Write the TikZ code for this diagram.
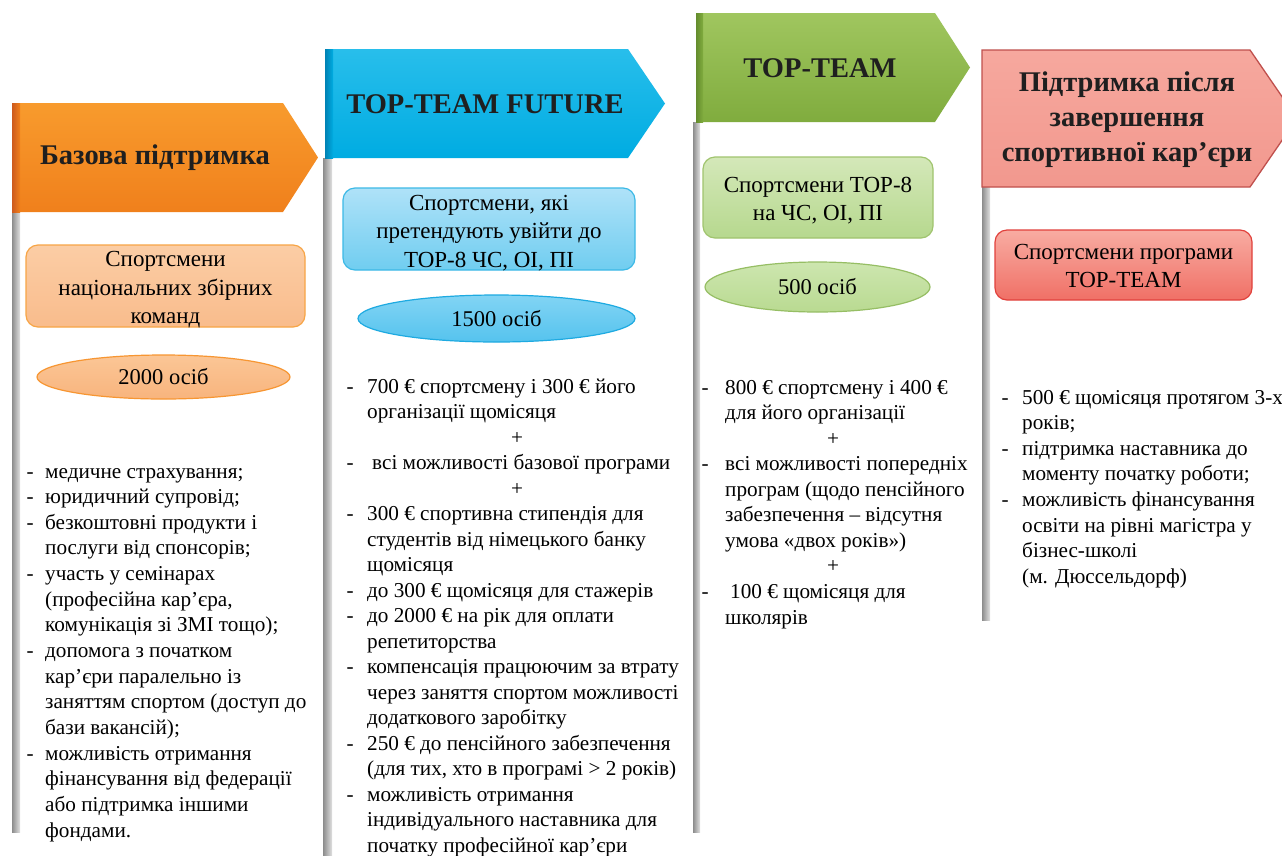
\documentclass[tikz,border=0pt]{standalone}
\usepackage{fontspec}
\setmainfont{LiberationSerif}[Extension=.ttf, UprightFont=*-Regular, BoldFont=*-Bold, ItalicFont=*-Italic, BoldItalicFont=*-BoldItalic]
\usetikzlibrary{shapes.geometric}
\definecolor{orA}{RGB}{248,155,45}
\definecolor{orB}{RGB}{240,128,28}
\definecolor{orD}{RGB}{205,90,30}
\definecolor{blA}{RGB}{40,190,235}
\definecolor{blB}{RGB}{0,172,226}
\definecolor{blD}{RGB}{0,130,180}
\definecolor{grA}{RGB}{160,198,95}
\definecolor{grB}{RGB}{128,172,62}
\definecolor{grD}{RGB}{100,140,45}
\definecolor{rdA}{RGB}{246,168,158}
\definecolor{rdB}{RGB}{242,152,142}
\definecolor{rdE}{RGB}{192,80,77}
\newcommand\dsh{\llap{-\hspace{\dgap}}}
\newcommand\pls[1]{\makebox[#1pt][c]{+}}
\def\dgap{12pt}
\begin{document}
\begin{tikzpicture}[x=1pt,y=-1pt,
  ttl/.style={font=\bfseries\fontsize{28.5}{35}\selectfont, text=black!88, align=center, inner sep=0pt},
  boxs/.style={inner sep=0pt, rounded corners=12pt, line width=1.2pt},
  boxt/.style={font=\fontsize{23}{28.5}\selectfont, align=center, inner sep=0pt},
  ell/.style={ellipse, font=\fontsize{22.5}{26}\selectfont, inner sep=0pt, line width=1.2pt},
  lt/.style={font=\fontsize{21.2}{25}\selectfont, anchor=base west, inner sep=0pt},
  bar/.style={left color=black!45, right color=black!12}]
\useasboundingbox (0,0) rectangle (1282,855);
\fill[white] (0,0) rectangle (1282,855);

% gray side bars
\shade[bar] (12,212) rectangle (20,832);
\shade[bar] (323,158) rectangle (332,855);
\shade[bar] (693,122) rectangle (700,832);
\shade[bar] (982,187) rectangle (990,620);

% banners
\shade[top color=orA, bottom color=orB] (12,103) -- (283,103) -- (318,157.5) -- (283,212) -- (12,212) -- cycle;
\shade[left color=orD, right color=orB] (12,103) rectangle (20,212);
\shade[top color=blA, bottom color=blB] (325,49) -- (628,49) -- (665,103.5) -- (628,158) -- (325,158) -- cycle;
\shade[left color=blD, right color=blB] (325,49) rectangle (333,158);
\shade[top color=grA, bottom color=grB] (696,13) -- (935,13) -- (970,67.5) -- (935,122) -- (696,122) -- cycle;
\shade[left color=grD, right color=grB] (696,13) rectangle (703,122);
\shade[top color=rdA, bottom color=rdB, draw=rdE, line width=1.3pt] (982,50) -- (1250,50) -- (1297,118.5) -- (1250,187) -- (982,187) -- cycle;

\node[ttl] (t1) at (155,158) {Базова підтримка};
\node[ttl] (t2) at (485,104) {TOP-TEAM FUTURE};
\node[ttl] (t3) at (820,68) {TOP-TEAM};
\node[ttl] (t4) at (1127,120) {Підтримка після\\завершення\\спортивної кар’єри};

% group boxes
\node[boxs, draw={rgb,255:red,247;green,165;blue,70}, top color={rgb,255:red,251;green,205;blue,165}, bottom color={rgb,255:red,249;green,188;blue,140}, minimum width=279pt, minimum height=82pt] (b1) at (165.5,286) {};
\node[boxt] (b1t) at (165.5,290) {Спортсмени\\національних збірних\\команд};
\node[boxs, draw={rgb,255:red,60;green,185;blue,230}, top color={rgb,255:red,175;green,226;blue,248}, bottom color={rgb,255:red,112;green,205;blue,240}, minimum width=292pt, minimum height=82pt] (b2) at (489,229) {};
\node[boxt] (b2t) at (489,233) {Спортсмени, які\\претендують увійти до\\ТОР-8 ЧС, ОІ, ПІ};
\node[boxs, draw={rgb,255:red,160;green,196;blue,110}, top color={rgb,255:red,212;green,232;blue,185}, bottom color={rgb,255:red,182;green,216;blue,142}, minimum width=230pt, minimum height=81pt] (b3) at (818,197.5) {};
\node[boxt] (b3t) at (818,200.5) {Спортсмени ТОР-8\\на ЧС, ОІ, ПІ};
\node[boxs, draw={rgb,255:red,225;green,65;blue,60}, top color={rgb,255:red,248;green,172;blue,162}, bottom color={rgb,255:red,240;green,112;blue,102}, minimum width=257pt, minimum height=70pt] (b4) at (1123.5,265) {};
\node[boxt] (b4t) at (1123.5,266) {Спортсмени програми\\ТОР-TEAM};

% ellipses
\node[ell, draw={rgb,255:red,247;green,150;blue,50}, top color={rgb,255:red,251;green,198;blue,150}, bottom color={rgb,255:red,248;green,180;blue,125}, minimum width=253pt, minimum height=44pt] (e1) at (163.5,377) {2000 осіб};
\node[ell, draw={rgb,255:red,30;green,170;blue,225}, top color={rgb,255:red,130;green,212;blue,244}, bottom color={rgb,255:red,85;green,195;blue,238}, minimum width=277pt, minimum height=47pt] (e2) at (496.5,318.5) {1500 осіб};
\node[ell, draw={rgb,255:red,150;green,190;blue,100}, top color={rgb,255:red,205;green,230;blue,175}, bottom color={rgb,255:red,185;green,218;blue,145}, minimum width=225pt, minimum height=50pt] (e3) at (817.5,287) {500 осіб};

% lists
\def\dgap{11.5pt}
\foreach \t [count=\i] in {
 {\dsh медичне страхування;},
 {\dsh юридичний супровід;},
 {\dsh безкоштовні продукти і},
 {послуги від спонсорів;},
 {\dsh участь у семінарах},
 {(професійна кар’єра,},
 {комунікація зі ЗМІ тощо);},
 {\dsh допомога з початком},
 {кар’єри паралельно із},
 {заняттям спортом (доступ до},
 {бази вакансій);},
 {\dsh можливість отримання},
 {фінансування від федерації},
 {або підтримка іншими},
 {фондами.}}
 \node[lt] (l1-\i) at (45,{478+(\i-1)*25.65}) {\t};

\def\dgap{13.5pt}
\foreach \t [count=\i] in {
 {\dsh 700 € спортсмену і 300 € його},
 {організації щомісяця},
 {\pls{300}},
 {\dsh\hspace{5pt}всі можливості базової програми},
 {\pls{300}},
 {\dsh 300 € спортивна стипендія для},
 {студентів від німецького банку},
 {щомісяця},
 {\dsh до 300 € щомісяця для стажерів},
 {\dsh до 2000 € на рік для оплати},
 {репетиторства},
 {\dsh компенсація працюючим за втрату},
 {через заняття спортом можливості},
 {додаткового заробітку},
 {\dsh 250 € до пенсійного забезпечення},
 {(для тих, хто в програмі > 2 років)},
 {\dsh можливість отримання},
 {індивідуального наставника для},
 {початку професійної кар’єри}}
 \node[lt] (l2-\i) at (367,{393+(\i-1)*25.5}) {\t};

\def\dgap{16.5pt}
\foreach \t [count=\i] in {
 {\dsh 800 € спортсмену і 400 €},
 {для його організації},
 {\pls{216}},
 {\dsh всі можливості попередніх},
 {програм (щодо пенсійного},
 {забезпечення – відсутня},
 {умова «двох років»)},
 {\pls{216}},
 {\dsh\hspace{5pt}100 € щомісяця для},
 {школярів}}
 \node[lt] (l3-\i) at (725,{394+(\i-1)*25.56}) {\t};

\def\dgap{13.5pt}
\foreach \t [count=\i] in {
 {\dsh 500 € щомісяця протягом 3-х},
 {років;},
 {\dsh підтримка наставника до},
 {моменту початку роботи;},
 {\dsh можливість фінансування},
 {освіти на рівні магістра у},
 {бізнес-школі},
 {(м. Дюссельдорф)}}
 \node[lt] (l4-\i) at (1022,{404+(\i-1)*25.6}) {\t};
\end{tikzpicture}
\end{document}
